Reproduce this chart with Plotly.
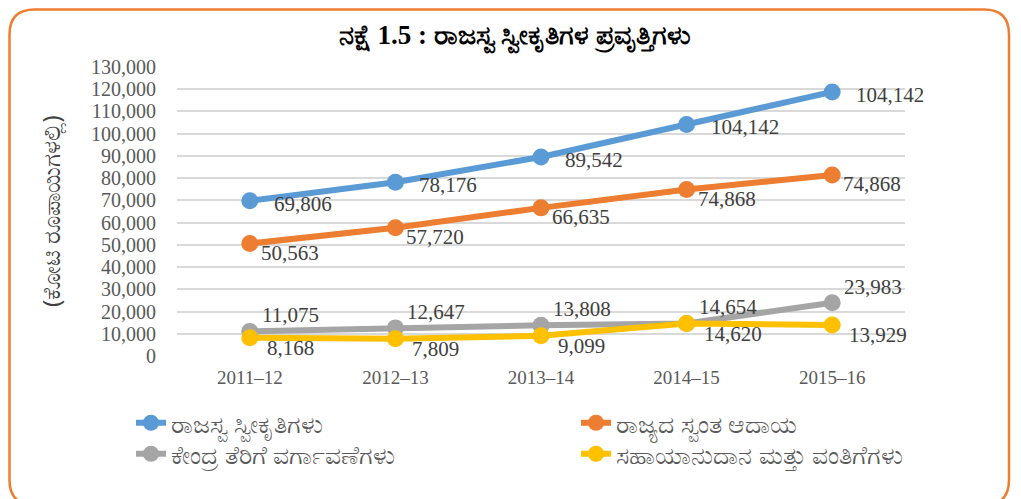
import plotly.graph_objects as go

# ---- data ----
years = ['2011–12', '2012–13', '2013–14', '2014–15', '2015–16']

revenue_receipts = [69806, 78176, 89542, 104142, 118800]
revenue_receipts_labels = ['69,806', '78,176', '89,542', '104,142', '104,142']

own_revenue = [50563, 57720, 66635, 74868, 81400]
own_revenue_labels = ['50,563', '57,720', '66,635', '74,868', '74,868']

tax_transfers = [11075, 12647, 13808, 14654, 23983]
tax_transfers_labels = ['11,075', '12,647', '13,808', '14,654', '23,983']

grants = [8168, 7809, 9099, 14620, 13929]
grants_labels = ['8,168', '7,809', '9,099', '14,620', '13,929']

series_names = ['ರಾಜಸ್ವ ಸ್ವೀಕೃತಿಗಳು', 'ರಾಜ್ಯದ ಸ್ವಂತ ಆದಾಯ',
                'ಕೇಂದ್ರ ತೆರಿಗೆ ವರ್ಗಾವಣೆಗಳು', 'ಸಹಾಯಾನುದಾನ ಮತ್ತು ವಂತಿಗೆಗಳು']

y_ticks = list(range(0, 130001, 10000))

title_text = 'ನಕ್ಷೆ 1.5 : ರಾಜಸ್ವ ಸ್ವೀಕೃತಿಗಳ ಪ್ರವೃತ್ತಿಗಳು'
y_title = '(ಕೋಟಿ ರೂಪಾಯಿಗಳಲ್ಲಿ)'

# ---- layout geometry ----
# the page body adds an 8px margin, so work in screen pixels and subtract it
OFF = 8
W, H = 1021 - OFF, 499 - OFF
L, T = 177 - OFF, 67 - OFF
R = W - (905 - OFF)
B = H - (356 - OFF)
PW, PH = W - L - R, H - T - B


def px(x):
    return (x - OFF - L) / PW


def py(y):
    return (H - B - (y - OFF)) / PH


colors = ['#5B9BD5', '#ED7D31', '#A5A5A5', '#FFC000']
values = [revenue_receipts, own_revenue, tax_transfers, grants]
labels = [revenue_receipts_labels, own_revenue_labels,
          tax_transfers_labels, grants_labels]
legends = ['legend', 'legend2', 'legend3', 'legend4']
# label offsets per series (xshift, yshift)
shifts = [(22, -3), (9, -9), (10, 16), (15, -10)]

fig = go.Figure()

for name, vals, col, leg in zip(series_names, values, colors, legends):
    fig.add_trace(go.Scatter(
        x=years, y=vals, name=name, mode='lines+markers',
        line=dict(color=col, width=6),
        marker=dict(color=col, size=17),
        legend=leg, showlegend=True,
    ))

annotations = []
for vals, labs, (xs, ys) in zip(values, labels, shifts):
    for xv, yv, t in zip(years, vals, labs):
        annotations.append(dict(
            x=xv, y=yv, text=t, showarrow=False,
            xanchor='left', yanchor='middle', xshift=xs, yshift=ys,
            font=dict(family='Liberation Serif', size=21, color='#404040'),
        ))

annotations.append(dict(
    x=px(50), y=py(211), xref='paper', yref='paper', text=y_title,
    showarrow=False, textangle=-90, xanchor='center', yanchor='middle',
    font=dict(family='Noto Sans', size=24, color='#404040'),
))

# rounded orange frame (kept inside the figure's own area)
x0, x1 = px(OFF + 1.5), px(1009)
y0, y1 = py(505), py(OFF + 1.5)
rx, ry = 25 / PW, 25 / PH
frame = (f'M {x0 + rx},{y1} L {x1 - rx},{y1} Q {x1},{y1} {x1},{y1 - ry} '
         f'L {x1},{y0 + ry} Q {x1},{y0} {x1 - rx},{y0} '
         f'L {x0 + rx},{y0} Q {x0},{y0} {x0},{y0 + ry} '
         f'L {x0},{y1 - ry} Q {x0},{y1} {x0 + rx},{y1} Z')

legend_font = dict(family='Noto Sans', size=25, color='#595959')


def legend_at(x, y):
    return dict(x=px(x), y=py(y), xanchor='left', yanchor='top',
                orientation='v', font=legend_font, bgcolor='rgba(0,0,0,0)')


fig.update_layout(
    width=W, height=H,
    margin=dict(l=L, r=R, t=T, b=B),
    paper_bgcolor='white', plot_bgcolor='white',
    showlegend=True,
    title=dict(text='<b>' + title_text + '</b>', x=(515 - OFF) / W,
               xanchor='center', y=1 - (35 - OFF) / H, yanchor='middle',
               font=dict(family='Liberation Serif', size=27, color='black')),
    annotations=annotations,
    shapes=[dict(type='path', xref='paper', yref='paper', path=frame,
                 line=dict(color='#ED7D31', width=2.5), layer='below')],
    legend=legend_at(131, 400),
    legend2=legend_at(576, 400),
    legend3=legend_at(131, 431),
    legend4=legend_at(576, 431),
    xaxis=dict(range=[-0.5, 4.5], showgrid=False, showline=False,
               zeroline=False, ticks='', ticklabelstandoff=8,
               tickfont=dict(family='Liberation Serif', size=19,
                             color='#595959')),
    yaxis=dict(range=[0, 130000], tickvals=y_ticks, tickformat=',',
               showgrid=True, gridcolor='#D9D9D9', gridwidth=1.5,
               zeroline=False, showline=False, ticks='',
               ticklabelstandoff=20,
               tickfont=dict(family='Liberation Serif', size=20,
                             color='#595959')),
)

fig.write_html("out.html")
